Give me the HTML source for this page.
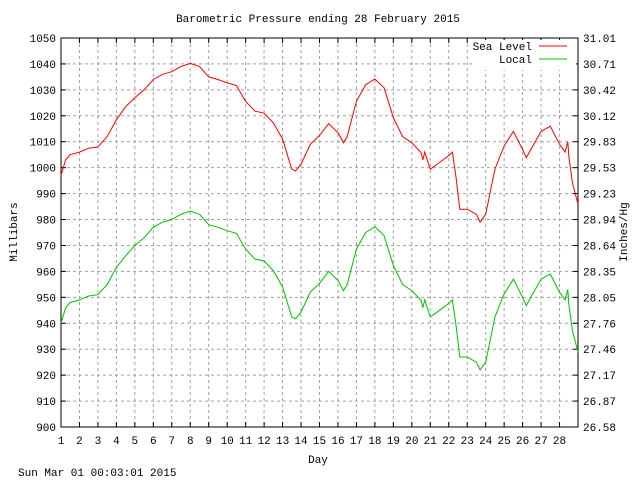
<!DOCTYPE html>
<html><head><meta charset="utf-8"><style>
body{margin:0;background:#fff}
svg{display:block;font-family:"Liberation Mono",monospace;font-size:11px}
</style></head><body>
<svg id="c" width="640" height="480" xmlns="http://www.w3.org/2000/svg">
<text x="318" y="22" text-anchor="middle">Barometric Pressure ending 28 February 2015</text>
<text transform="translate(17,232) rotate(-90)" text-anchor="middle">Millibars</text>
<text transform="translate(627,232) rotate(-90)" text-anchor="middle">Inches/Hg</text>
<text x="318" y="463" text-anchor="middle">Day</text>
<text x="18" y="476">Sun Mar 01 00:03:01 2015</text>
<g id="grid"></g><g id="axes"></g><g id="series"></g><g id="legend"></g>
</svg>
<script>
const days=[1,1.25,1.5,2,2.5,3,3.5,4,4.5,5,5.5,6,6.5,7,7.5,8,8.5,9,9.5,10,10.5,11,11.5,12,12.5,13,13.3,13.5,13.7,14,14.5,15,15.5,16,16.3,16.5,17,17.5,18,18.5,19,19.5,20,20.5,20.6,20.7,21,21.5,22,22.2,22.4,22.6,23,23.5,23.7,24,24.5,25,25.5,26,26.2,26.5,27,27.5,28,28.3,28.45,28.5,28.7,29];
const seaLevel=[997,1003,1005,1006,1007.5,1008,1012,1018.5,1023.5,1027,1030,1034,1036,1037,1039,1040.2,1039,1035,1034,1032.7,1031.7,1025.6,1021.8,1021,1017.3,1011,1004,999.4,998.7,1001.3,1009,1012.4,1017,1013.5,1009.6,1012,1025.6,1032,1034.2,1030.8,1019.2,1012,1009.6,1005.8,1003,1006,999.4,1002,1004.7,1006,996,984,984,982,979,982,999.4,1008.3,1014,1007,1003.8,1007.7,1014,1016,1009,1006,1010,1004.5,994,986];
const local=[940,946,948,949,950.5,951,955,961.5,966,970,973,977,979,980,982,983.2,982,978,977,975.7,974.7,968.6,964.8,964,960.3,954,947,942.4,941.7,944.3,952,955.4,960,956.5,952.6,955,968.6,975,977.2,973.8,962.2,955,952.6,948.8,946,949,942.4,945,947.7,949,939,927,927,925,922,925,942.4,951.3,957,950,946.8,950.7,957,959,952,949,953,947.5,937,929];
const yTicks=[900,910,920,930,940,950,960,970,980,990,1000,1010,1020,1030,1040,1050];
const xTicks=[1,2,3,4,5,6,7,8,9,10,11,12,13,14,15,16,17,18,19,20,21,22,23,24,25,26,27,28];
const L=61,R=578,T=38,B=427;
const xs=d=>L+(d-1)*(R-L)/28;
const ys=v=>B-(v-900)*(B-T)/150;
const NS="http://www.w3.org/2000/svg";
function mk(tag,parent,attrs){const e=document.createElementNS(NS,tag);for(const k in attrs)e.setAttribute(k,attrs[k]);parent.appendChild(e);return e;}
const grid=document.getElementById('grid'),axes=document.getElementById('axes'),series=document.getElementById('series'),legend=document.getElementById('legend');
yTicks.forEach(v=>{
  const y=ys(v);
  if(v>900&&v<1050){const g=mk('line',grid,{x1:L,x2:R,y1:y,y2:y,stroke:'#a0a0a0','stroke-dasharray':'3,3'});
  
  }
  mk('line',axes,{x1:L,x2:L+5,y1:y,y2:y,stroke:'#000'});
  mk('line',axes,{x1:R-5,x2:R,y1:y,y2:y,stroke:'#000'});
  const t=mk('text',axes,{x:L-5,y:y+4,'text-anchor':'end'});t.textContent=v;
  
  
  const t2=mk('text',axes,{x:R+5,y:y+4});t2.textContent=(v*0.02953).toFixed(2);
  
  
});
xTicks.forEach(d=>{
  const x=xs(d);
  if(d>1){const g=mk('line',grid,{x1:x,x2:x,y1:T,y2:B,stroke:'#a0a0a0','stroke-dasharray':'3,3'});
  
  }
  mk('line',axes,{x1:x,x2:x,y1:B,y2:B-5,stroke:'#000'});
  mk('line',axes,{x1:x,x2:x,y1:T,y2:T+5,stroke:'#000'});
  const t=mk('text',axes,{x:x,y:B+17,'text-anchor':'middle'});t.textContent=d;
  
  
});
const fr=mk('rect',axes,{x:L,y:T,width:R-L,height:B-T,fill:'none',stroke:'#000'});


function line(vals,color,name){
  const p=mk('polyline',series,{points:days.map((d,i)=>xs(d).toFixed(1)+','+ys(vals[i]).toFixed(1)).join(' '),fill:'none',stroke:color,'stroke-width':1});
  
  
}
line(seaLevel,'#ff0000','sea-level-line');
line(local,'#00c000','local-line');
const bg=mk('rect',legend,{x:474,y:40,width:102,height:30,fill:'#fff'});


[['Sea Level','#ff0000',50],['Local','#00c000',63]].forEach(([n,c,y])=>{
  const t=mk('text',legend,{x:532,y:y,'text-anchor':'end'});t.textContent=n;
  
  
  const l=mk('line',legend,{x1:539,x2:567,y1:y-4,y2:y-4,stroke:c});
  
  
});
</script>
</body></html>
